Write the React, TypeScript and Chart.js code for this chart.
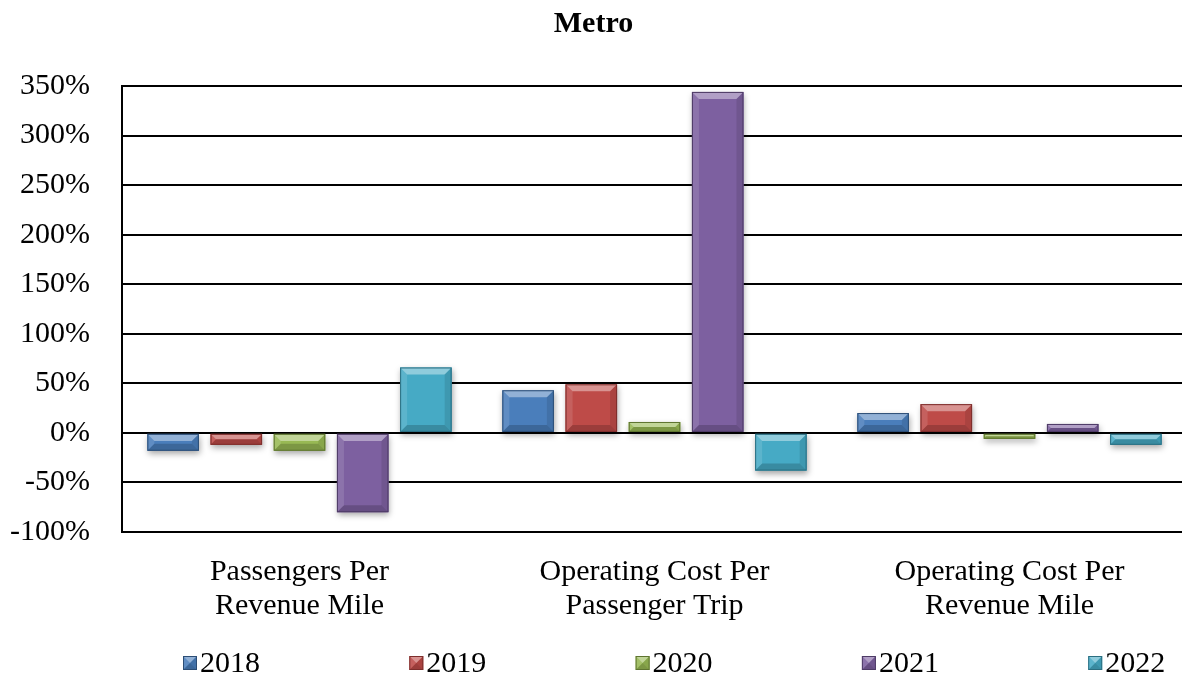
import React, { useEffect, useRef } from "react";
import { Chart, registerables } from "chart.js";

Chart.register(...registerables);

const categories: string[][] = [
  ["Passengers Per", "Revenue Mile"],
  ["Operating Cost Per", "Passenger Trip"],
  ["Operating Cost Per", "Revenue Mile"],
];
const seriesNames = ["2018", "2019", "2020", "2021", "2022"];
const values2018 = [-18, 43, 20];
const values2019 = [-12, 49, 29];
const values2020 = [-18, 11, -6];
const values2021 = [-80, 344, 9];
const values2022 = [66, -38, -12];
const yTicks = [-100, -50, 0, 50, 100, 150, 200, 250, 300, 350];

const fills = ["#4A7EBB", "#BE4B48", "#98B954", "#7D60A0", "#46AAC5"];
const borders = ["#2C4D75", "#7D2E2C", "#5E7430", "#4E3B66", "#2B6E80"];

const FONT = "'Liberation Serif', 'Times New Roman', serif";

function bevel(ctx: CanvasRenderingContext2D, l: number, t: number, r: number, b: number, fill: string, border: string) {
  const w = r - l;
  const h = b - t;
  const s = Math.max(0, Math.min(7, w / 2, h / 2));
  ctx.save();
  const g = ctx.createLinearGradient(0, t, 0, b);
  g.addColorStop(0, fill);
  g.addColorStop(1, fill);
  ctx.fillStyle = g;
  ctx.fillRect(l, t, w, h);
  ctx.fillStyle = "rgba(255,255,255,0.4)";
  ctx.beginPath();
  ctx.moveTo(l, t); ctx.lineTo(r, t); ctx.lineTo(r - s, t + s); ctx.lineTo(l + s, t + s); ctx.closePath();
  ctx.fill();
  ctx.fillStyle = "rgba(255,255,255,0.12)";
  ctx.beginPath();
  ctx.moveTo(l, t); ctx.lineTo(l + s, t + s); ctx.lineTo(l + s, b - s); ctx.lineTo(l, b); ctx.closePath();
  ctx.fill();
  ctx.fillStyle = "rgba(0,0,0,0.1)";
  ctx.beginPath();
  ctx.moveTo(r, t); ctx.lineTo(r - s, t + s); ctx.lineTo(r - s, b - s); ctx.lineTo(r, b); ctx.closePath();
  ctx.fill();
  ctx.fillStyle = "rgba(0,0,0,0.18)";
  ctx.beginPath();
  ctx.moveTo(l, b); ctx.lineTo(r, b); ctx.lineTo(r - s, b - s); ctx.lineTo(l + s, b - s); ctx.closePath();
  ctx.fill();
  ctx.strokeStyle = border;
  ctx.lineWidth = 1;
  ctx.strokeRect(l + 0.5, t + 0.5, w - 1, h - 1);
  ctx.restore();
}

const bevelPlugin = {
  id: "bevelBars",
  afterDatasetsDraw(chart: any) {
    const ctx = chart.ctx as CanvasRenderingContext2D;
    const area = chart.chartArea;
    ctx.save();
    ctx.beginPath();
    ctx.rect(area.left, area.top - 2, area.right - area.left, area.bottom - area.top + 4);
    ctx.clip();
    chart.data.datasets.forEach((ds: any, di: number) => {
      const meta = chart.getDatasetMeta(di);
      meta.data.forEach((el: any) => {
        const { x, y, base, width } = el.getProps(["x", "y", "base", "width"], true);
        const l = x - width / 2;
        const r = x + width / 2;
        const t = Math.min(y, base);
        const b = Math.max(y, base);
        ctx.save();
        ctx.shadowColor = "rgba(0,0,0,0.35)";
        ctx.shadowBlur = 6;
        ctx.shadowOffsetY = 3;
        ctx.shadowOffsetX = 1;
        ctx.fillStyle = fills[di];
        ctx.fillRect(l, t, r - l, b - t);
        ctx.restore();
        bevel(ctx, l, t, r, b, fills[di], borders[di]);
      });
    });
    ctx.restore();
  },
};

const LEGEND_OFFSET = 61;
const LEGEND_STEP = 226.3;
const LEGEND_Y = 663;

const legendPlugin = {
  id: "customLegend",
  afterDraw(chart: any) {
    const ctx = chart.ctx as CanvasRenderingContext2D;
    const area = chart.chartArea;
    ctx.save();
    ctx.font = `30px ${FONT}`;
    ctx.textBaseline = "middle";
    ctx.textAlign = "left";
    seriesNames.forEach((name, i) => {
      const x0 = area.left + LEGEND_OFFSET + i * LEGEND_STEP;
      bevel(ctx, x0, LEGEND_Y - 7, x0 + 14, LEGEND_Y + 7, fills[i], borders[i]);
      ctx.fillStyle = "#000";
      ctx.fillText(name, x0 + 17, LEGEND_Y + 1);
    });
    ctx.restore();
  },
};

export default function App() {
  const ref = useRef<HTMLCanvasElement | null>(null);
  useEffect(() => {
    if (!ref.current) return;
    const allValues = [values2018, values2019, values2020, values2021, values2022];
    const chart = new Chart(ref.current, {
      type: "bar",
      data: {
        labels: categories,
        datasets: seriesNames.map((name, i) => ({
          label: name,
          data: allValues[i],
          backgroundColor: "rgba(0,0,0,0)",
          borderWidth: 0,
          categoryPercentage: 0.89,
          barPercentage: 0.815,
        })),
      },
      options: {
        responsive: false,
        animation: false,
        devicePixelRatio: 1,
        layout: { padding: 0 },
        plugins: {
          legend: { display: false },
          tooltip: { enabled: false },
          title: {
            display: true,
            text: "Metro",
            color: "#000",
            font: { family: FONT, size: 30, weight: "bold", lineHeight: 1.2 },
            padding: { top: 6, bottom: 44 },
          },
        },
        scales: {
          x: {
            grid: { display: false, drawTicks: false },
            border: { display: true, color: "#000", width: 2 },
            ticks: {
              color: "#000",
              font: { family: FONT, size: 30, lineHeight: 1.13 },
              padding: 23,
              maxRotation: 0,
              autoSkip: false,
            },
            afterFit: (s: any) => {
              s.height = 159;
            },
          },
          y: {
            min: yTicks[0],
            max: yTicks[yTicks.length - 1],
            afterBuildTicks: (s: any) => {
              s.ticks = yTicks.map((v) => ({ value: v }));
            },
            ticks: {
              color: "#000",
              font: { family: FONT, size: 30 },
              padding: 32,
              callback: (v: any) => `${v}%`,
            },
            grid: { color: "#000", lineWidth: 2, drawTicks: false },
            border: { color: "#000", width: 2 },
            afterFit: (s: any) => {
              s.width = 122;
            },
          },
        },
      },
      plugins: [bevelPlugin, legendPlugin],
    });
    return () => chart.destroy();
  }, []);
  return (
    <div style={{ position: "fixed", left: 0, top: 0, width: 1182, height: 691, overflow: "hidden", background: "#fff" }}>
      <canvas ref={ref} width={1187} height={691} style={{ display: "block" }} />
    </div>
  );
}
